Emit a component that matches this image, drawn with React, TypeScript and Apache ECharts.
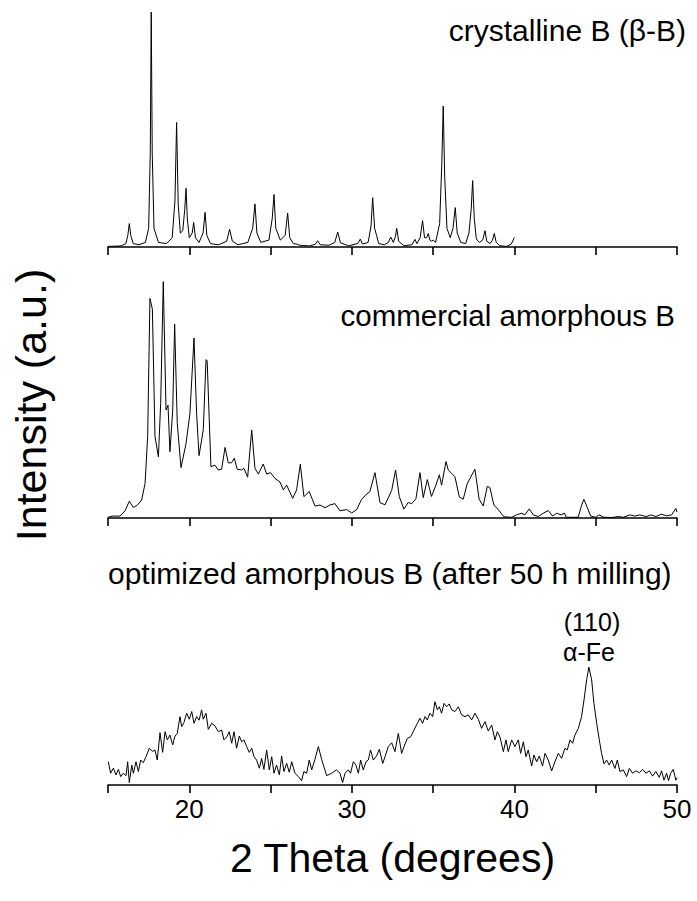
import React, { useEffect, useRef } from "react";
import * as echarts from "echarts";

const FONT = "Arial";

// 2θ (degrees), intensity (a.u.)
const crystallineB: number[][] = [
  [15.0, 0.3], [15.8, 0.5], [16.1, 1.5], [16.22, 5], [16.31, 10], [16.4, 5], [16.55, 1.5], [16.9, 1],
  [17.3, 2], [17.5, 8], [17.6, 40], [17.66, 100], [17.72, 40], [17.83, 8], [18.1, 2], [18.6, 1.5],
  [18.95, 4], [19.12, 20], [19.22, 53], [19.32, 18], [19.45, 6], [19.6, 7], [19.72, 16], [19.8, 25],
  [19.88, 12], [20.0, 4], [20.18, 6], [20.27, 10.5], [20.38, 4], [20.6, 2], [20.85, 6], [20.97, 14.8],
  [21.08, 5], [21.3, 1.5], [21.8, 1], [22.3, 2.5], [22.48, 7.6], [22.65, 2.5], [23.0, 1], [23.6, 2],
  [23.9, 8], [24.04, 18.4], [24.16, 6], [24.4, 2], [24.9, 3], [25.1, 12], [25.21, 22.4], [25.32, 8],
  [25.6, 3], [25.9, 5], [26.05, 14.5], [26.18, 4], [26.4, 1.5], [26.6, 1.3], [26.8, 0.8], [27.4, 0.5],
  [27.75, 1.2], [27.9, 2.7], [28.05, 1], [28.6, 0.8], [28.95, 2], [29.13, 6.4], [29.3, 1.8], [29.8, 0.6],
  [30.35, 1.5], [30.52, 3.4], [30.65, 1.3], [31.0, 2], [31.18, 9], [31.28, 21], [31.4, 8], [31.52, 5],
  [31.65, 1.5], [32.0, 1], [32.25, 2], [32.39, 4.3], [32.55, 2], [32.68, 4.5], [32.76, 8], [32.88, 2.5],
  [33.2, 0.6], [33.7, 1], [33.88, 3.3], [34.0, 1.5], [34.2, 4], [34.35, 11.3], [34.47, 4], [34.6, 4],
  [34.7, 5.8], [34.8, 3], [34.9, 2.5], [35.0, 3], [35.15, 2], [35.4, 10], [35.53, 35], [35.62, 60],
  [35.71, 30], [35.85, 8], [36.05, 4], [36.22, 8], [36.36, 16.8], [36.48, 6], [36.7, 2], [37.0, 1.5],
  [37.2, 6], [37.34, 16], [37.43, 28.3], [37.53, 12], [37.65, 4], [37.71, 3], [37.85, 2], [38.05, 3],
  [38.19, 7], [38.3, 2.5], [38.5, 1.5], [38.65, 3], [38.76, 5.8], [38.88, 2], [39.1, 0.6], [39.5, 0.3],
  [39.8, 1.2], [40.0, 4.1],
];

const commercialB: number[][] = [
  [15.0, 0.3], [15.3, 0.8], [15.74, 0.8], [16.05, 3], [16.31, 7], [16.56, 4.4], [16.8, 5.3], [17.07, 7.5],
  [17.28, 14.4], [17.44, 33.9], [17.58, 91.5], [17.73, 87], [17.89, 34], [18.1, 25.5], [18.24, 47.8],
  [18.4, 98.5], [18.57, 45], [18.69, 47], [18.81, 27.6], [18.98, 45], [19.1, 80.8], [19.26, 39.4],
  [19.49, 21], [19.8, 31], [20.04, 43.6], [20.29, 75], [20.45, 43.6], [20.6, 26], [20.86, 36.7],
  [21.03, 66], [21.1, 65.5], [21.33, 21.4], [21.58, 22], [21.78, 20], [21.99, 20.3], [22.2, 29.4],
  [22.4, 23], [22.6, 23], [22.77, 24.9], [22.95, 20.3], [23.22, 20], [23.36, 20.7], [23.59, 17],
  [23.84, 36.7], [24.04, 20.7], [24.25, 18.3], [24.55, 22.5], [24.76, 18.3], [25.0, 18.9], [25.27, 16.5],
  [25.58, 15], [25.78, 11.7], [25.99, 13.7], [26.36, 8.2], [26.6, 11.7], [26.83, 22.4], [27.05, 8.9],
  [27.38, 11], [27.73, 5], [28.04, 5.4], [28.35, 4.3], [28.65, 5.4], [28.96, 6], [29.27, 3], [29.68, 3.5],
  [29.99, 2.1], [30.3, 3.5], [30.6, 7.8], [30.91, 10], [31.11, 11], [31.42, 18.9], [31.73, 6.4],
  [32.04, 5.5], [32.45, 11.5], [32.69, 20], [32.92, 8.9], [33.2, 3.7], [33.47, 6.5], [33.67, 5.9],
  [33.94, 8], [34.19, 18.9], [34.39, 8.5], [34.64, 16], [34.9, 9], [35.17, 13.7], [35.38, 18],
  [35.52, 13.7], [35.79, 23.5], [35.93, 20], [36.14, 18.6], [36.34, 17.2], [36.61, 8.8], [36.85, 7.8],
  [37.1, 14.4], [37.32, 17.2], [37.57, 20.3], [37.83, 7.8], [38.08, 5], [38.33, 13.2], [38.49, 12.7],
  [38.74, 5.3], [39.0, 3.6], [39.35, 0.5], [39.83, 0.3], [40.13, 1.3], [40.44, 2], [40.64, 1.3],
  [40.91, 3.8], [41.16, 1.3], [41.46, 0.6], [41.77, 2], [42.08, 3.1], [42.35, 0.8], [42.6, 2],
  [42.87, 1.3], [43.08, 2], [43.18, 0.3], [43.92, 0.3], [44.13, 5.3], [44.27, 7.8], [44.48, 4.4],
  [44.69, 0.8], [45.0, 0.3], [45.2, 1.3], [45.5, 0.3], [46.0, 0.2], [46.4, 0.6], [46.7, 0.3], [47.1, 1.3],
  [47.4, 0.8], [47.72, 1.3], [48.1, 0.6], [48.4, 1.3], [48.7, 0.6], [49.05, 1.6], [49.35, 0.9],
  [49.67, 1.3], [49.93, 4], [50.0, 2.5],
];

const optimizedB: number[][] = [
  [15.02, 9.7], [15.16, 4.9], [15.33, 7], [15.49, 4.2], [15.64, 6.5], [15.78, 3.5], [15.94, 4.9],
  [16.11, 3.9], [16.21, 9.7], [16.31, 1], [16.46, 8.3], [16.56, 4.9], [16.72, 9.7], [16.87, 5.6],
  [17.01, 10.4], [17.17, 9.3], [17.34, 11.8], [17.54, 15.3], [17.75, 14], [17.89, 14.6], [18.03, 10.4],
  [18.2, 21.8], [18.36, 13.6], [18.51, 22.2], [18.65, 18.8], [18.81, 20.8], [18.98, 16.7], [19.12, 20.4],
  [19.26, 21.5], [19.43, 28.5], [19.53, 24.3], [19.67, 26], [19.84, 29.9], [20.0, 27.4], [20.15, 30.6],
  [20.29, 25.7], [20.45, 28.5], [20.6, 27], [20.76, 31.3], [20.86, 27.4], [21.03, 29.9], [21.17, 23.2],
  [21.38, 25.7], [21.58, 24.6], [21.79, 22.2], [21.99, 22.9], [22.13, 18.8], [22.3, 20], [22.46, 22.2],
  [22.61, 17.4], [22.75, 22.2], [22.91, 15.3], [23.08, 20.4], [23.22, 18], [23.36, 18.8], [23.53, 16],
  [23.69, 13.6], [23.84, 15.3], [23.98, 11.8], [24.14, 10.4], [24.31, 7], [24.45, 11.1], [24.59, 6.5],
  [24.76, 14.6], [24.92, 6.3], [25.07, 11.8], [25.21, 4.9], [25.37, 8.3], [25.54, 4.2], [25.68, 12.1],
  [25.82, 5.6], [25.99, 9], [26.15, 5.3], [26.3, 9.7], [26.5, 4.9], [26.71, 3.5], [26.91, 1.8],
  [27.05, 5.6], [27.22, 4.9], [27.38, 10.4], [27.53, 6.3], [27.73, 10.7], [27.94, 16], [28.14, 10.7],
  [28.45, 3.9], [28.76, 4.9], [29.06, 6.3], [29.27, 4.9], [29.43, 1], [29.58, 4.9], [29.78, 6.3],
  [29.92, 4.9], [30.09, 9.7], [30.25, 8.3], [30.4, 4.9], [30.54, 10.4], [30.7, 6.3], [30.87, 9.7],
  [31.01, 10.4], [31.15, 14.6], [31.32, 10.4], [31.52, 12.1], [31.69, 14.9], [31.9, 9], [32.04, 11.8],
  [32.24, 16], [32.45, 17.6], [32.65, 13.9], [32.86, 21.5], [33.06, 13.2], [33.21, 16], [33.41, 19.4],
  [33.62, 20.1], [33.82, 22.9], [34.03, 25.7], [34.19, 27.8], [34.35, 25.7], [34.5, 28.5], [34.64, 27.1],
  [34.8, 29.9], [34.97, 28.5], [35.11, 34.7], [35.26, 31.3], [35.38, 32.6], [35.52, 29.9], [35.67, 34],
  [35.83, 32.6], [35.99, 33.8], [36.14, 31.3], [36.34, 30.6], [36.55, 32.6], [36.75, 29.2], [36.96, 28.5],
  [37.16, 29.2], [37.37, 27.1], [37.57, 29.9], [37.78, 27.4], [37.98, 23.6], [38.19, 26.4], [38.39, 22.5],
  [38.6, 25], [38.8, 18.8], [38.95, 22.2], [39.11, 20], [39.32, 13.9], [39.48, 18.8], [39.62, 13.9],
  [39.83, 18.8], [40.03, 16], [40.24, 18.8], [40.38, 13.2], [40.55, 18], [40.71, 11.8], [40.85, 14.6],
  [41.06, 7.9], [41.2, 12.5], [41.37, 9.7], [41.53, 12.1], [41.73, 7.9], [41.88, 13.2], [42.08, 10.4],
  [42.29, 5.9], [42.49, 9.7], [42.7, 13.2], [42.9, 11.1], [43.11, 15.3], [43.25, 14.6], [43.42, 18.8],
  [43.58, 17.4], [43.72, 20.8], [43.93, 23.6], [44.13, 28.5], [44.28, 35.4], [44.44, 43.8], [44.58, 49.1],
  [44.75, 43.8], [44.89, 34], [45.06, 25.7], [45.22, 18.8], [45.36, 13.2], [45.51, 8.8], [45.67, 10.4],
  [45.83, 8.3], [45.98, 10.4], [46.18, 6.9], [46.33, 10.4], [46.49, 5.6], [46.7, 6.3], [46.9, 3.5],
  [47.07, 6.9], [47.27, 4.9], [47.48, 5.9], [47.68, 5.1], [47.89, 6.5], [48.09, 4.9], [48.3, 5.9],
  [48.5, 3.7], [48.7, 5.6], [48.91, 3.2], [49.05, 5.9], [49.2, 2], [49.36, 4.9], [49.48, 1.8],
  [49.61, 4.9], [49.77, 6.5], [49.93, 2], [50.0, 3],
];

const tickLabels: number[] = [20, 30, 40, 50];
const panelLabels: string[] = [
  "crystalline B (β-B)",
  "commercial amorphous B",
  "optimized amorphous B (after 50 h milling)",
];
const peakLabel: string[] = ["(110)", "α-Fe"];

const X_MIN = 15;
const X_MAX = 50;

export default function App() {
  const ref = useRef<HTMLDivElement>(null);
  useEffect(() => {
    document.body.style.margin = "0";
    if (!ref.current) return;
    const chart = echarts.init(ref.current, null, { renderer: "svg" });
    const grids = [
      { left: 108, width: 569, top: 12, height: 241 },
      { left: 108, width: 569, top: 278, height: 240 },
      { left: 108, width: 569, top: 665, height: 120 },
    ];
    const yRanges = [
      [-2.5, 100],
      [0, 100],
      [0, 50],
    ];
    const axisLine = { show: true, lineStyle: { color: "#000", width: 1.6 } };
    const xAxes = grids.map((_, i) => ({
      type: "value",
      gridIndex: i,
      min: X_MIN,
      max: X_MAX,
      interval: 5,
      axisLine,
      axisTick: { show: true, inside: false, length: 8, lineStyle: { color: "#000", width: 1.6 } },
      splitLine: { show: false },
      axisLabel: {
        show: i === 2,
        color: "#000",
        fontFamily: FONT,
        fontSize: 26,
        margin: 11,
        formatter: (v: number) => (tickLabels.includes(v) ? String(v) : ""),
      },
      name: i === 2 ? "2 Theta (degrees)" : "",
      nameLocation: "middle",
      nameGap: 52,
      nameTextStyle: { color: "#000", fontFamily: FONT, fontSize: 41 },
    }));
    const yAxes = grids.map((_, i) => ({
      type: "value",
      gridIndex: i,
      min: yRanges[i][0],
      max: yRanges[i][1],
      show: false,
    }));
    const datasets = [crystallineB, commercialB, optimizedB];
    const series = datasets.map((d, i) => ({
      type: "line",
      xAxisIndex: i,
      yAxisIndex: i,
      data: d,
      symbol: "none",
      smooth: false,
      lineStyle: { color: "#000", width: 1 },
      clip: false,
    }));
    const textStyle = (text: string, size: number, align: string) => ({
      text,
      fontSize: size,
      fontFamily: FONT,
      fill: "#000",
      align,
      verticalAlign: "middle",
      textAlign: align,
      textVerticalAlign: "middle",
    });
    chart.setOption({
      animation: false,
      backgroundColor: "#fff",
      grid: grids,
      xAxis: xAxes,
      yAxis: yAxes,
      series,
      graphic: [
        { type: "text", x: 686, y: 30, style: textStyle(panelLabels[0], 30, "right") },
        { type: "text", x: 675, y: 315, style: textStyle(panelLabels[1], 29.5, "right") },
        { type: "text", x: 108, y: 573, style: textStyle(panelLabels[2], 30, "left") },
        { type: "text", x: 592, y: 622, style: textStyle(peakLabel[0], 25, "center") },
        { type: "text", x: 589, y: 652, style: textStyle(peakLabel[1], 25, "center") },
        {
          type: "text",
          x: 31,
          y: 405,
          rotation: Math.PI / 2,
          style: textStyle("Intensity (a.u.)", 43, "center"),
        },
      ],
    });
    return () => chart.dispose();
  }, []);
  return (
    <div
      ref={ref}
      style={{ position: "fixed", left: 0, top: 0, width: 697, height: 901, background: "#fff" }}
    />
  );
}
